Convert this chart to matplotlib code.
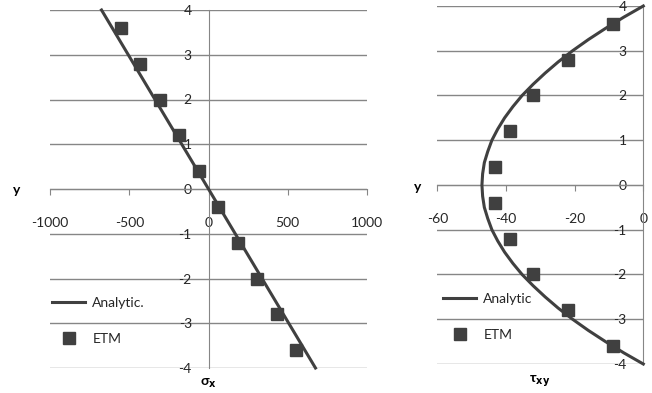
import matplotlib
matplotlib.use('Agg')
import matplotlib.pyplot as plt

plt.rcParams['font.family'] = ['Lato', 'DejaVu Sans']
plt.rcParams['font.size'] = 9
plt.rcParams['axes.unicode_minus'] = False

# left chart: sigma_x
sig_y = [4, -4]
sig_an = [-675, 675]
etm_y = [3.6, 2.8, 2.0, 1.2, 0.4, -0.4, -1.2, -2.0, -2.8, -3.6]
sig_etm = [-555, -430, -305, -187, -59, 59, 189, 309, 431, 555]

# right chart: tau_xy
tau_y = [4, 3.75, 3.5, 3.25, 3, 2.75, 2.5, 2.25, 2, 1.75, 1.5, 1.25, 1, 0.75, 0.5, 0.25, 0,
         -0.25, -0.5, -0.75, -1, -1.25, -1.5, -1.75, -2, -2.25, -2.5, -2.75, -3, -3.25, -3.5, -3.75, -4]
tau_an = [0, -5.7, -11.0, -16.0, -20.6, -24.8, -28.6, -32.1, -35.3, -38.0, -40.4, -42.4, -44.1, -45.3, -46.3, -46.8, -47.0,
          -46.8, -46.3, -45.3, -44.1, -42.4, -40.4, -38.0, -35.3, -32.1, -28.6, -24.8, -20.6, -16.0, -11.0, -5.7, 0]
tau_etm = [-8.7, -22, -32, -38.9, -43.1, -43.1, -38.9, -32, -22, -8.7]

dark = '#404040'
grid = '#868686'
W, H = 652, 393

fig = plt.figure(figsize=(6.52, 3.93), dpi=100)
ax1 = fig.add_axes([50 / W, 1 - 368 / H, 317 / W, 358 / H])
ax2 = fig.add_axes([437.3 / W, 1 - 364 / H, 206 / W, 358 / H])


def style(ax, xlim, xticks):
    ax.set_xlim(*xlim)
    ax.set_ylim(-4, 4)
    ax.set_xticks(xticks)
    ax.set_yticks(range(-4, 5))
    for s in ['top', 'right']:
        ax.spines[s].set_visible(False)
    ax.spines['left'].set_position(('data', 0))
    ax.spines['bottom'].set_position(('data', 0))
    ax.spines['left'].set_color(grid)
    ax.spines['bottom'].set_color(grid)
    ax.yaxis.grid(True, color=grid, lw=1)
    ax.set_axisbelow(True)
    ax.tick_params(axis='y', length=0, pad=12, labelcolor='#262626', labelsize=10)
    ax.tick_params(axis='x', direction='out', length=4, color=grid, pad=16,
                   labelcolor='#262626', labelsize=10)


style(ax1, (-1000, 1000), [-1000, -500, 0, 500, 1000])
ax1.plot(sig_an, sig_y, color=dark, lw=2.2, label='Analytic.', clip_on=False, zorder=3)
ax1.plot(sig_etm, etm_y, 's', color=dark, ms=8, label='ETM', zorder=4)

style(ax2, (-60, 0), [-60, -40, -20, 0])
ax2.plot(tau_an, tau_y, color=dark, lw=2.2, label='Analytic', clip_on=False, zorder=3)
ax2.plot(tau_etm, etm_y, 's', color=dark, ms=8, label='ETM', zorder=4)

for ax, x0, y0 in [(ax1, 52, 297), (ax2, 443, 293)]:
    ax.legend(loc='upper left', bbox_to_anchor=(x0 / W, 1 - y0 / H), bbox_transform=fig.transFigure,
              frameon=False, borderpad=0, borderaxespad=0, handlelength=2.4, handletextpad=0.5,
              labelspacing=1.7, fontsize=10, labelcolor='#262626')

fig.text(17 / W, 1 - 190 / H, 'y', ha='center', va='center', fontsize=10, fontweight='bold')
fig.text(418 / W, 1 - 187 / H, 'y', ha='center', va='center', fontsize=10, fontweight='bold')
fig.text(208 / W, 1 - 383 / H, 'σ$_\\mathbf{x}$', ha='center', va='center', fontsize=10, fontweight='bold')
fig.text(540 / W, 1 - 381 / H, 'τ$_\\mathbf{xy}$', ha='center', va='center', fontsize=10, fontweight='bold')

fig.savefig('out.png', dpi=100)
